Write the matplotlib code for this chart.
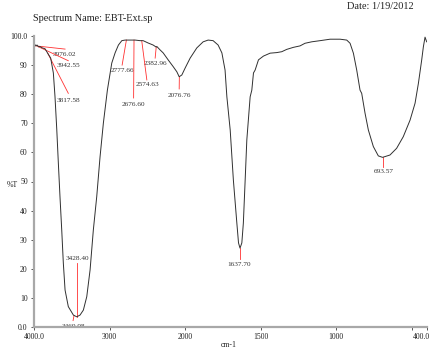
import numpy as np
import matplotlib
matplotlib.use("Agg")
import matplotlib.pyplot as plt
import matplotlib.transforms as mtransforms

plt.rcParams['font.family'] = ['Liberation Serif', 'DejaVu Serif']

# spectrum: wavenumber (cm-1) and %T
wavenumber = [4000, 3990, 3976, 3960, 3942, 3920, 3898, 3854, 3817, 3779, 3744,
              3722, 3699, 3678, 3656, 3633, 3612, 3589, 3546, 3479, 3434,
              3391, 3347, 3302, 3258, 3215, 3170, 3126, 3082, 3029, 2971,
              2927, 2883, 2838, 2795, 2728, 2662, 2596, 2556, 2490, 2424,
              2383, 2375, 2331, 2291, 2225, 2159, 2110, 2079, 2044, 2000,
              1967, 1923, 1881, 1848, 1815, 1782, 1757, 1736, 1724, 1702,
              1681, 1658, 1647, 1637, 1625, 1615, 1603, 1592, 1570, 1559,
              1548, 1537, 1515, 1482, 1438, 1394, 1361, 1328, 1284, 1240,
              1207, 1163, 1107, 1041, 975, 931, 909, 887, 865, 843,
              832, 810, 788, 755, 722, 694, 645, 601, 557, 512,
              479, 457, 435, 424, 413, 402]
transmittance = [97.3, 97.1, 96.6, 96.9, 96.3, 96.4, 96.0, 95.6, 94.0, 92.4, 87.3,
                 79.1, 68.0, 56.4, 44.7, 33.3, 22.0, 12.7, 7.0, 4.1, 3.5,
                 4.1, 5.8, 10.4, 19.6, 33.3, 44.8, 58.5, 70.1, 81.4, 90.7,
                 94.2, 96.9, 98.4, 98.6, 98.6, 98.6, 98.4, 98.4, 97.6, 96.9,
                 96.2, 96.4, 95.2, 94.2, 91.8, 89.5, 87.7, 86.0, 86.6, 89.0,
                 92.4, 95.9, 98.0, 98.6, 98.4, 96.9, 94.2, 88.3, 79.1, 67.7,
                 50.5, 35.7, 28.9, 27.1, 28.9, 35.7, 50.5, 64.3, 79.1, 81.4,
                 87.3, 88.3, 91.8, 93.1, 94.1, 94.3, 94.6, 95.4, 96.1, 96.6,
                 97.5, 98.0, 98.4, 98.9, 98.9, 98.6, 97.5, 94.1, 88.3, 81.4,
                 80.3, 73.5, 67.7, 62.0, 58.8, 58.3, 59.1, 61.4, 65.4, 71.1,
                 76.9, 83.7, 91.8, 96.3, 99.6, 98.0]

# picked peaks
peak_wn = [3976.02, 3942.55, 3817.58, 3428.40, 3469.98, 2777.66, 2676.60,
           2574.63, 2382.96, 2076.76, 1637.70, 693.57]
# where each leader line ends and where its label sits (wavenumber, %T)
line_end = [(3589, 95.5), (3546, 91.5), (3546, 80.3), (3428.40, 22.1),
            (3483, 2.2), (2834, 90.0), (2682, 78.7), (2507, 84.9),
            (2397, 92.4), (2079, 81.8), (1637.70, 23.4), (693.57, 55.0)]
label_pos = [(3603, 93.8), (3550, 89.7), (3550, 78.0), (3428.40, 23.6),
             (3483, 0.0), (2834, 88.0), (2682, 76.3), (2503, 83.2),
             (2391, 90.7), (2079, 79.7), (1643, 21.6), (689, 53.3)]

x_ticks = [4000, 3000, 2000, 1500, 1000, 500, 400]
x_ticklabels = ['4000.0', '3000', '2000', '1500', '1000', '', '400.0']
y_ticks = [0, 10, 20, 30, 40, 50, 60, 70, 80, 90, 100]
y_ticklabels = ['0.0', '10', '20', '30', '40', '50', '60', '70', '80', '90', '100.0']


# IR-style axis: region below 2000 cm-1 stretched twice
def fwd(x):
    x = np.asarray(x, dtype=float)
    return np.where(x <= 2000, 2 * x, x + 2000)


def inv(y):
    y = np.asarray(y, dtype=float)
    return np.where(y <= 4000, y / 2, y - 2000)


fig = plt.figure(figsize=(4.35, 3.5), dpi=100)
ax = fig.add_axes([34 / 435, 23 / 350, 393 / 435, 291 / 350])
ax.set_xscale('function', functions=(fwd, inv))
ax.set_xlim(4000, 400)
ax.set_ylim(0, 100)

ax.plot(wavenumber, transmittance, color='#303030', lw=0.7, zorder=3)

for wn, (xe, ye), (xt, yt) in zip(peak_wn, line_end, label_pos):
    yp = np.interp(wn, wavenumber[::-1], transmittance[::-1])
    ax.plot([wn, xe], [yp, ye], color='#ff3030', lw=0.6, zorder=2)
    ax.text(xt, yt, "%.2f" % wn, fontsize=5.2, color='#333333',
            ha='center', va='center', zorder=1)

for side in ['top', 'right']:
    ax.spines[side].set_visible(False)
for side in ['left', 'bottom']:
    ax.spines[side].set_color('#a8a8a8')
    ax.spines[side].set_linewidth(1.6)
    ax.spines[side].set_zorder(5)

ax.set_xticks(x_ticks)
ax.set_xticklabels(x_ticklabels)
ax.set_yticks(y_ticks)
ax.set_yticklabels(y_ticklabels)
ax.minorticks_off()
ax.tick_params(length=2, width=0.7, color='#555555', labelsize=5.6,
               labelcolor='#222222', pad=2.5)
last = ax.get_xticklabels()[-1]
last.set_ha('right')
last.set_transform(last.get_transform() +
                   mtransforms.ScaledTranslation(3 / 100, 0, fig.dpi_scale_trans))

fig.text(12 / 435, 1 - 185 / 350, '%T', fontsize=5.6, color='#222222',
         ha='center', va='center')
fig.text(229 / 435, 1 - 345 / 350, 'cm-1', fontsize=5.6, color='#222222',
         ha='center', va='center')
fig.text(33 / 435, 1 - 18.5 / 350, 'Spectrum Name: EBT-Ext.sp', fontsize=7.4,
         color='#222222', ha='left', va='center')
fig.text(414 / 435, 1 - 6.5 / 350, 'Date: 1/19/2012', fontsize=7.4,
         color='#222222', ha='right', va='center')

fig.savefig('out.png', dpi=100)
